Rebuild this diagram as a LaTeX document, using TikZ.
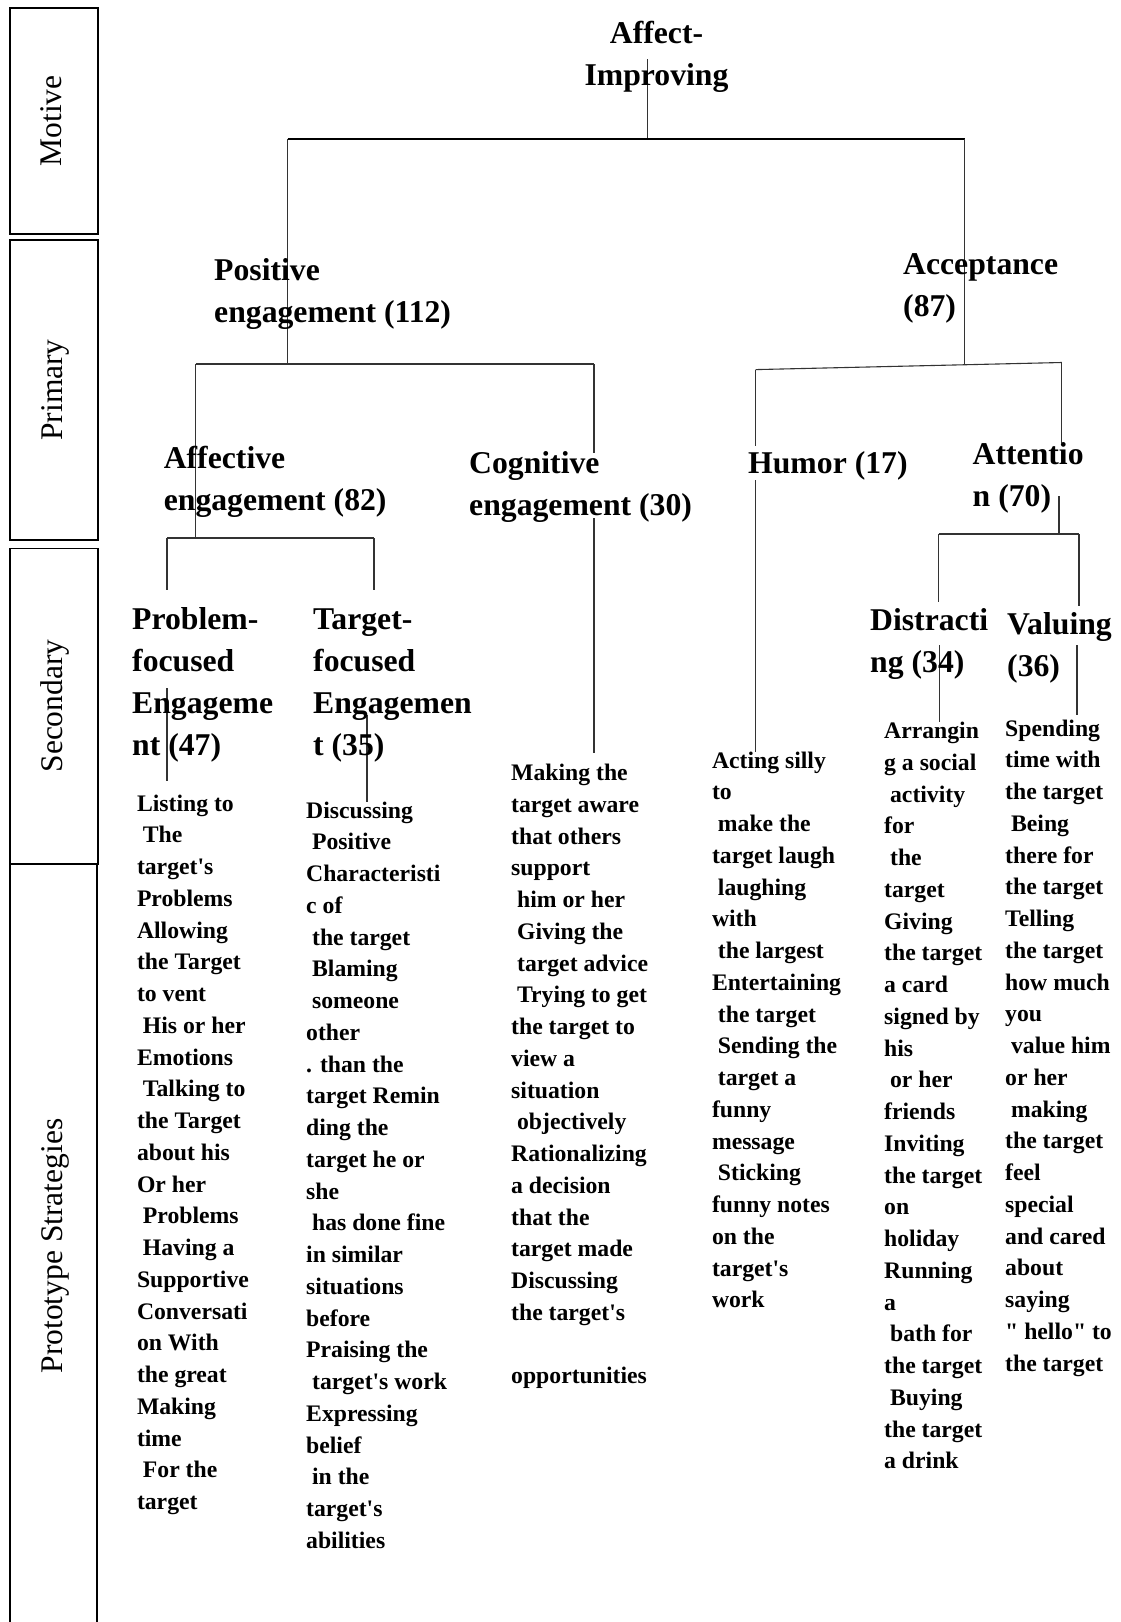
\documentclass[tikz,border=0pt]{standalone}
\usepackage{fontspec}
\setmainfont{Liberation Serif}[Ligatures=TeXOff]
\newcommand\stk[1]{\vtop{\halign{##\hfil\cr#1\crcr}}}
\newcommand\stkc[1]{\vtop{\halign{\hfil##\hfil\cr#1\crcr}}}
\tikzset{
  tline/.style={line width=1.1pt, draw=black!80},
  tbar/.style={line width=2.2pt, draw=black},
  sidebox/.style={line width=1.6pt, draw=black},
  lab/.style={rotate=90, anchor=base, inner sep=0pt, font=\fontsize{31.5}{38}\selectfont},
  head/.style={anchor=base west, inner sep=0pt, font=\bfseries\fontsize{31.7}{42}\selectfont},
  strat/.style={anchor=base west, inner sep=0pt, font=\bfseries\fontsize{23.7}{31.75}\selectfont}
}
\begin{document}
\begin{tikzpicture}[x=1pt,y=-1pt]
\useasboundingbox (0,0) rectangle (1120,1622);
% side boxes
\draw[sidebox] (10,8) rectangle (98,234);
\draw[sidebox] (10,240) rectangle (98,540);
\draw[sidebox] (10,548.6) rectangle (98,864);
\draw[sidebox] (10,1660) -- (10,864) -- (97,864) -- (97,1660);
\node[lab] (lmot) at (61.5,121) {Motive};
\node[lab] (lpri) at (62,390) {Primary};
\node[lab] (lsec) at (62,706) {Secondary};
\node[lab] (lpro) at (62,1246) {Prototype Strategies};
% connector coordinates
\coordinate (r1) at (647.5,59);
\coordinate (r2) at (647.5,139);
\coordinate (bL) at (287.5,139);
\coordinate (bR) at (964.6,139);
\coordinate (pe1) at (287.5,364);
\coordinate (ac1) at (964.6,364.5);
\coordinate (pbL) at (195.7,364);
\coordinate (pbR) at (594,364);
\coordinate (ae1) at (195.7,538);
\coordinate (cg0) at (594,453);
\coordinate (cg1) at (594,518);
\coordinate (cg2) at (594,753);
\coordinate (abL) at (167,538);
\coordinate (abR) at (374,538);
\coordinate (abL2) at (167,590);
\coordinate (abR2) at (374,590);
\coordinate (pf1) at (167,688);
\coordinate (pf2) at (167,781);
\coordinate (tf1) at (367,715);
\coordinate (tf2) at (367,802);
\coordinate (hbL) at (755.7,369.6);
\coordinate (hbR) at (1061.8,362.5);
\coordinate (hu0) at (755.7,446);
\coordinate (hu1) at (755.7,480);
\coordinate (hu2) at (755.7,752);
\coordinate (at0) at (1061.8,443);
\coordinate (at1) at (1059,496);
\coordinate (at2) at (1059,534);
\coordinate (dbL) at (938.6,534);
\coordinate (dbR) at (1079,534);
\coordinate (dbL2) at (938.6,602);
\coordinate (dbR2) at (1079,606);
\coordinate (di1) at (939.6,645);
\coordinate (di2) at (939.6,722);
\coordinate (va1) at (1077,645);
\coordinate (va2) at (1077,714.6);
% connectors
\draw[tline] (r1) -- (r2);
\draw[tbar] (bL) -- (bR);
\draw[tline] (bL) -- (pe1);
\draw[tline] (bR) -- (ac1);
\draw[tline] (pbL) -- (pbR);
\draw[tline] (pbL) -- (ae1);
\draw[tline] (pbR) -- (cg0);
\draw[tline] (cg1) -- (cg2);
\draw[tline] (abL) -- (abR);
\draw[tline] (abL) -- (abL2);
\draw[tline] (abR) -- (abR2);
\draw[tline] (pf1) -- (pf2);
\draw[tline] (tf1) -- (tf2);
\draw[tline] (hbL) -- (hbR);
\draw[tline] (hbL) -- (hu0);
\draw[tline] (hu1) -- (hu2);
\draw[tline] (hbR) -- (at0);
\draw[tline] (at1) -- (at2);
\draw[tline] (dbL) -- (dbR);
\draw[tline] (dbL) -- (dbL2);
\draw[tline] (dbR) -- (dbR2);
\draw[tline] (di1) -- (di2);
\draw[tline] (va1) -- (va2);
% headings
\node[head, anchor=base] (root) at (656.5,43) {\stkc{Affect-\cr Improving}};
\node[head] (pos) at (214,280) {\stk{Positive\cr engagement (112)}};
\node[head] (acc) at (903,274) {\stk{Acceptance\cr (87)}};
\node[head] (aff) at (163.6,468) {\stk{Affective\cr engagement (82)}};
\node[head] (cog) at (469,473) {\stk{Cognitive\cr engagement (30)}};
\node[head] (hum) at (748,473) {\stk{Humor (17)}};
\node[head] (att) at (972.5,464) {\stk{Attentio\cr n (70)}};
\node[head] (prob) at (132,629) {\stk{Problem-\cr focused\cr Engageme\cr nt (47)}};
\node[head] (targ) at (313,629) {\stk{Target-\cr focused\cr Engagemen\cr t (35)}};
\node[head] (dist) at (870,630.7) {\stk{Distracti\cr ng (34)}};
\node[head] (valu) at (1007,634) {\stk{Valuing\cr (36)}};
% strategies
\node[strat] (sprob) at (136.8,811) {\stk{Listing to\cr
\ The\cr
target's\cr
Problems\cr
Allowing\cr
the Target\cr
to vent\cr
\ His or her\cr
Emotions\cr
\ Talking to\cr
the Target\cr
about his\cr
Or her\cr
\ Problems\cr
\ Having a\cr
Supportive\cr
Conversati\cr
on With\cr
the great\cr
Making\cr
time\cr
\ For the\cr
target}};
\node[strat] (starg) at (306,818) {\stk{Discussing\cr
\ Positive\cr
Characteristi\cr
c of\cr
\ the target\cr
\ Blaming\cr
\ someone\cr
other\cr
. than the\cr
target Remin\cr
ding the\cr
target he or\cr
she\cr
\ has done fine\cr
in similar\cr
situations\cr
before\cr
Praising the\cr
\ target's work\cr
Expressing\cr
belief\cr
\ in the\cr
target's\cr
abilities}};
\node[strat] (scog) at (511,780.7) {\stk{Making the\cr
target aware\cr
that others\cr
support\cr
\ him or her\cr
\ Giving the\cr
\ target advice\cr
\ Trying to get\cr
the target to\cr
view a\cr
situation\cr
\ objectively\cr
Rationalizing\cr
a decision\cr
that the\cr
target made\cr
Discussing\cr
the target's\cr
\cr
opportunities}};
\node[strat] (shum) at (711.8,768) {\stk{Acting silly\cr
to\cr
\ make the\cr
target laugh\cr
\ laughing\cr
with\cr
\ the largest\cr
Entertaining\cr
\ the target\cr
\ Sending the\cr
\ target a\cr
funny\cr
message\cr
\ Sticking\cr
funny notes\cr
on the\cr
target's\cr
work}};
\node[strat] (sdist) at (884,738.6) {\stk{Arrangin\cr
g a social\cr
\ activity\cr
for\cr
\ the\cr
target\cr
Giving\cr
the target\cr
a card\cr
signed by\cr
his\cr
\ or her\cr
friends\cr
Inviting\cr
the target\cr
on\cr
holiday\cr
Running\cr
a\cr
\ bath for\cr
the target\cr
\ Buying\cr
the target\cr
a drink}};
\node[strat] (svalu) at (1005,736) {\stk{Spending\cr
time with\cr
the target\cr
\ Being\cr
there for\cr
the target\cr
Telling\cr
the target\cr
how much\cr
you\cr
\ value him\cr
or her\cr
\ making\cr
the target\cr
feel\cr
special\cr
and cared\cr
about\cr
saying\cr
" hello" to\cr
the target}};
\end{tikzpicture}
\end{document}
